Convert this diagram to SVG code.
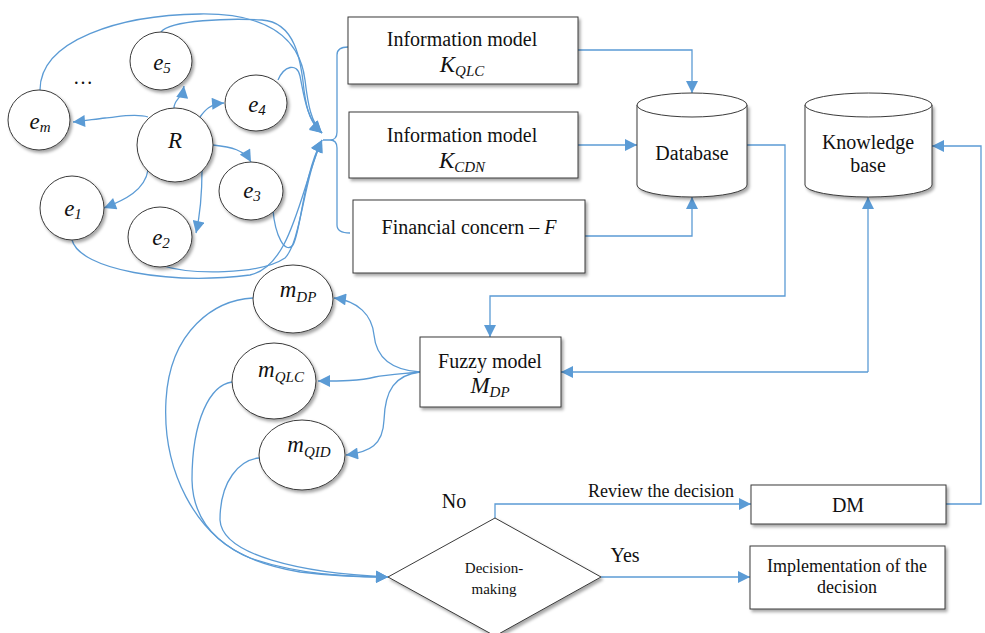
<svg xmlns="http://www.w3.org/2000/svg" width="985" height="633" viewBox="0 0 985 633">
<defs>
<marker id="a" viewBox="0 0 10 10" refX="10" refY="5" markerWidth="13" markerHeight="12" markerUnits="userSpaceOnUse" orient="auto"><path d="M0,0 L10,5 L0,10 z" fill="#5b9bd5"/></marker>
<filter id="sh" x="-20%" y="-20%" width="150%" height="150%"><feDropShadow dx="2" dy="2.5" stdDeviation="1.8" flood-color="#000" flood-opacity="0.35"/></filter>
<style>
.n{fill:#fff;stroke:#3a3a3a;stroke-width:1;filter:url(#sh)}
.c{fill:none;stroke:#5b9bd5;stroke-width:1.3}
.ar{marker-end:url(#a)}
.t{font-family:"Liberation Serif",serif;font-size:20px;fill:#111;text-anchor:middle}
.s{font-size:18px}
.d{font-size:15px}
.m{font-family:"Liberation Serif",serif;font-style:italic;font-size:23px;fill:#111;text-anchor:middle}
.sub{font-size:15px}
</style>
</defs>
<rect width="985" height="633" fill="#fff"/>

<g id="connectors">
<path class="c ar" d="M148,117 C135,113 118,117 105,118 C95,119 85,121 73,122"/>
<path class="c ar" d="M174,108 C174,99 182,99 184,86"/>
<path class="c ar" d="M200,117 C205,110 210,104 224,103"/>
<path class="c ar" d="M213,145 C232,147 244,150 251,162"/>
<path class="c ar" d="M148,170 C145,190 125,200 104,208"/>
<path class="c ar" d="M202,170 C202,195 200,215 196,233"/>
<path class="c ar" d="M40,90 C40,40 120,15 200,14 C270,13 300,40 305,80 C308,105 311,122 322,133"/>
<path class="c ar" d="M161,32 C170,20 230,18 262,20 C295,22 301,60 304,90 C307,112 311,124 322,133"/>
<path class="c ar" d="M278,80 C284,66 297,62 300,76 C304,95 306,118 322,133"/>
<path class="c ar" d="M273,210 C275,235 285,255 293,245 C301,232 303,175 322,140"/>
<path class="c ar" d="M72,240 C80,270 170,285 250,275 C292,266 300,190 322,140"/>
<path class="c ar" d="M160,265 C190,275 260,275 285,258 C301,242 303,180 322,140"/>
<path class="c" d="M348,47 Q337,47 337,55 L337,132 Q337,140 330,140 Q337,140 337,148 L337,225 Q337,233 350,233 M330,140 L323,140"/>
<path class="c ar" d="M578,50 L692,50 L692,93"/>
<path class="c ar" d="M578,145 L637,145"/>
<path class="c ar" d="M585,236 L692,236 L692,197"/>
<path class="c ar" d="M747,145 L785,145 L785,296 L490,296 L490,337"/>
<path class="c ar" d="M868,372 L561,372"/>
<path class="c ar" d="M868,372 L868,197"/>
<path class="c ar" d="M946,504 L981,504 L981,146 L932,146"/>
<path class="c ar" d="M420,372 C390,370 376,356 374,335 C372,315 358,301 334,298"/>
<path class="c ar" d="M420,372 C400,374 385,375 375,377 C360,381 340,381 318,381"/>
<path class="c ar" d="M420,372 C395,375 385,390 384,420 C383,445 370,452 346,455"/>
<path class="c ar" d="M253,298 C215,300 170,330 166,400 C162,470 195,535 250,558 C300,575 350,577 388,577"/>
<path class="c ar" d="M232,382 C210,385 192,420 192,480 C193,530 230,560 300,572 C340,577 365,577 388,577"/>
<path class="c ar" d="M259,458 C240,460 220,480 220,520 C222,555 300,573 388,577"/>
<path class="c ar" d="M495,518 L495,504 L751,504"/>
<path class="c ar" d="M601,577 L750,577"/>
</g>

<g id="e_m"><ellipse class="n" cx="39" cy="120" rx="31" ry="30"/><text class="m" x="40" y="129">e<tspan class="sub" dy="3">m</tspan></text></g>
<g id="e5"><ellipse class="n" cx="161" cy="61" rx="31" ry="29"/><text class="m" x="162" y="70">e<tspan class="sub" dy="3">5</tspan></text></g>
<g id="e4"><ellipse class="n" cx="256" cy="103" rx="31" ry="28"/><text class="m" x="257" y="112">e<tspan class="sub" dy="3">4</tspan></text></g>
<g id="R"><ellipse class="n" cx="175" cy="145" rx="38" ry="37"/><text class="m" x="175" y="148">R</text></g>
<g id="e3"><ellipse class="n" cx="251" cy="191" rx="32" ry="29"/><text class="m" x="252" y="198">e<tspan class="sub" dy="3">3</tspan></text></g>
<g id="e1"><ellipse class="n" cx="72" cy="208" rx="32" ry="32"/><text class="m" x="73" y="216">e<tspan class="sub" dy="3">1</tspan></text></g>
<g id="e2"><ellipse class="n" cx="160" cy="237" rx="32" ry="30"/><text class="m" x="161" y="245">e<tspan class="sub" dy="3">2</tspan></text></g>
<text class="t" x="83" y="84">…</text>

<g id="kqlc"><rect class="n" x="348" y="17" width="230" height="67"/><text class="t" x="462" y="46">Information model</text><text class="m" x="462" y="72">K<tspan class="sub" dy="4">QLC</tspan></text></g>
<g id="kcdn"><rect class="n" x="349" y="112" width="229" height="66"/><text class="t" x="462" y="142">Information model</text><text class="m" x="462" y="168">K<tspan class="sub" dy="4">CDN</tspan></text></g>
<g id="fin"><rect class="n" x="353" y="200" width="232" height="73"/><text class="t" x="469" y="234">Financial concern – <tspan font-style="italic">F</tspan></text></g>

<g id="database"><path class="n" d="M637,105 L637,185 A55,12 0 0 0 747,185 L747,105 Z"/><ellipse cx="692" cy="105" rx="55" ry="12" fill="#fff" stroke="#3a3a3a"/><text class="t" x="692" y="160">Database</text></g>
<g id="kb"><path class="n" d="M805,105 L805,185 A63.5,12 0 0 0 932,185 L932,105 Z"/><ellipse cx="868.5" cy="105" rx="63.5" ry="12" fill="#fff" stroke="#3a3a3a"/><text class="t" x="868" y="149">Knowledge</text><text class="t" x="868" y="172">base</text></g>

<g id="fuzzy"><rect class="n" x="420" y="337" width="141" height="70"/><text class="t" x="490" y="368">Fuzzy model</text><text class="m" x="490" y="393">M<tspan class="sub" dy="4">DP</tspan></text></g>

<g id="mdp"><ellipse class="n" cx="293" cy="299" rx="40" ry="34"/><text class="m" x="298" y="297">m<tspan class="sub" dy="5">DP</tspan></text></g>
<g id="mqlc"><ellipse class="n" cx="274" cy="381" rx="42" ry="38"/><text class="m" x="281" y="377">m<tspan class="sub" dy="5">QLC</tspan></text></g>
<g id="mqid"><ellipse class="n" cx="302" cy="455" rx="43" ry="35"/><text class="m" x="309" y="452">m<tspan class="sub" dy="5">QID</tspan></text></g>

<g id="decision"><path class="n" d="M388,577 L495,518 L601,577 L495,636 Z"/><text class="t d" x="494" y="573">Decision-</text><text class="t d" x="494" y="594">making</text></g>
<text class="t" x="454" y="508">No</text>
<text class="t s" x="661" y="497">Review the decision</text>
<text class="t" x="625" y="562">Yes</text>

<g id="dm"><rect class="n" x="751" y="485" width="195" height="39"/><text class="t" x="848" y="512">DM</text></g>
<g id="impl"><rect class="n" x="750" y="546" width="195" height="63"/><text class="t s" x="847" y="572">Implementation of the</text><text class="t s" x="847" y="593">decision</text></g>
</svg>
